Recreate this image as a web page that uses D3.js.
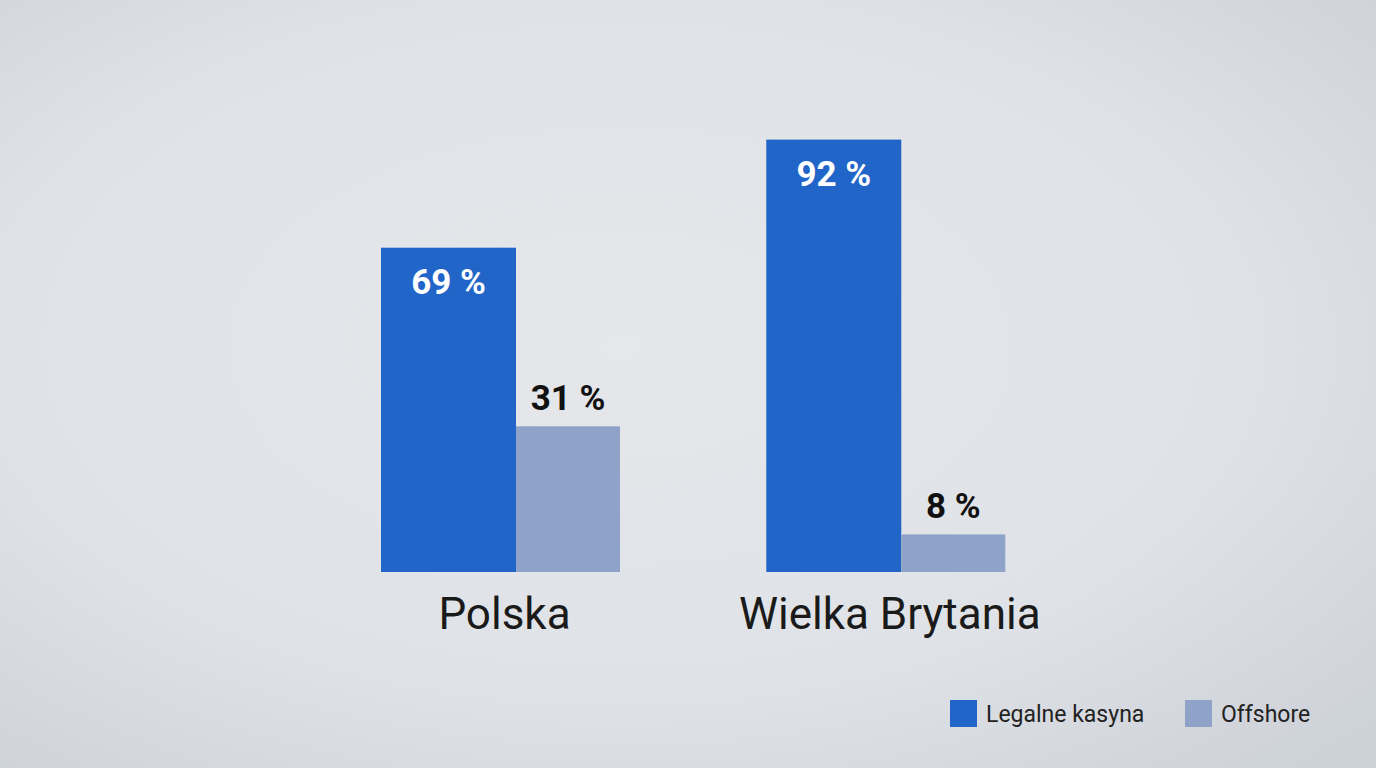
<!DOCTYPE html>
<html><head><meta charset="utf-8">
<script src="https://cdn.jsdelivr.net/npm/d3@7"></script>
<style>body{margin:0;overflow:hidden}svg{display:block}text{font-family:Roboto,"Noto Sans",sans-serif}</style>
</head><body><svg id="c" width="1376" height="768"></svg>
<script>
var categories = ["Polska", "Wielka Brytania"];
var series = ["Legalne kasyna", "Offshore"];
var legalne = [69, 92];
var offshore = [31, 8];
var colors = ["#2265c9", "#8fa3c8"];

var svg = d3.select("#c");
var defs = svg.append("defs");
var grad = defs.append("radialGradient").attr("id", "bg").attr("cx", "45%").attr("cy", "45%").attr("r", "75%");
grad.append("stop").attr("offset", "0%").attr("stop-color", "#e5e7eb");
grad.append("stop").attr("offset", "60%").attr("stop-color", "#dfe2e6");
grad.append("stop").attr("offset", "100%").attr("stop-color", "#cdd1d8");
svg.append("rect").attr("width", 1376).attr("height", 768).attr("fill", "url(#bg)");

var base = 572;
var y = d3.scaleLinear().domain([0, 100]).range([base, base - 470]);
var x = d3.scaleBand().domain(categories).range([381, 1009]).paddingInner(0.37);

// legal bar wider than offshore bar
var legalW = 135, offW = 104;

categories.forEach(function(c, i) {
  var x0 = x(c);
  svg.append("rect").attr("x", x0).attr("y", y(legalne[i])).attr("width", legalW)
    .attr("height", base - y(legalne[i])).attr("fill", colors[0]);
  svg.append("rect").attr("x", x0 + legalW).attr("y", y(offshore[i])).attr("width", offW)
    .attr("height", base - y(offshore[i])).attr("fill", colors[1]);
  svg.append("text").attr("x", x0 + legalW / 2).attr("y", y(legalne[i]) + 46)
    .attr("text-anchor", "middle").attr("fill", "#fff").attr("font-size", 35).attr("font-weight", 700)
    .text(legalne[i] + " %");
  svg.append("text").attr("x", x0 + legalW + offW / 2).attr("y", y(offshore[i]) - 16)
    .attr("text-anchor", "middle").attr("fill", "#111").attr("font-size", 35).attr("font-weight", 700)
    .text(offshore[i] + " %");
  svg.append("text").attr("x", x0 + (legalW + offW) / 2 + 4).attr("y", 629)
    .attr("text-anchor", "middle").attr("fill", "#1a1a1a").attr("font-size", 44)
    .text(c);
});

var lx = [950, 1185];
series.forEach(function(s, i) {
  svg.append("rect").attr("x", lx[i]).attr("y", 700).attr("width", 27).attr("height", 27).attr("fill", colors[i]);
  svg.append("text").attr("x", lx[i] + 36).attr("y", 722).attr("fill", "#222").attr("font-size", 23).text(s);
});
</script></body></html>
